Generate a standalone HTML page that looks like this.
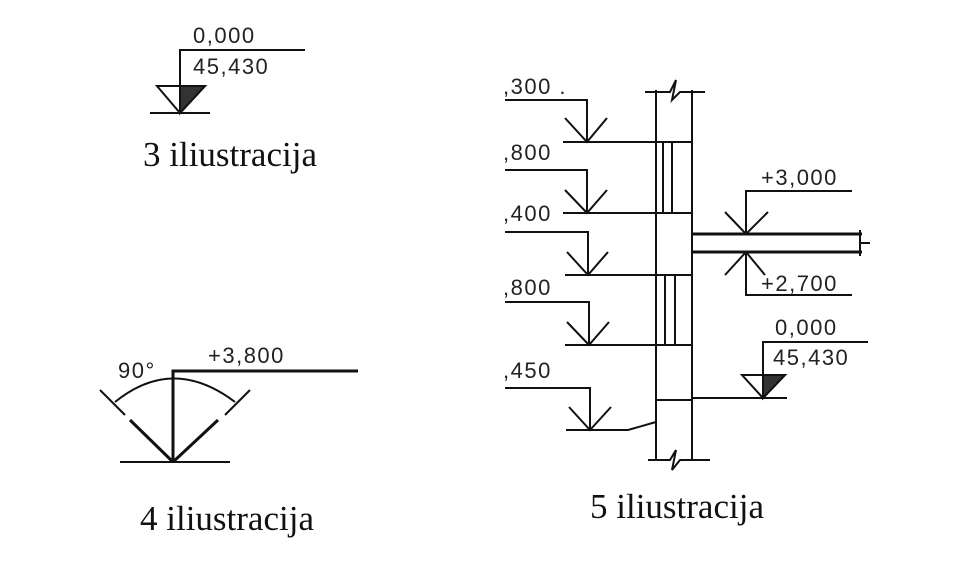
<!DOCTYPE html>
<html><head><meta charset="utf-8"><style>
html,body{margin:0;padding:0;background:#fff;}
svg{display:block}
.t{font-family:"Liberation Sans",sans-serif;font-size:22px;letter-spacing:1.5px;fill:#222;}
.c{font-family:"Liberation Serif",serif;font-size:35px;fill:#111;}
</style></head><body>
<svg width="956" height="576" viewBox="0 0 956 576" xmlns="http://www.w3.org/2000/svg" stroke="#111" fill="none" stroke-width="2">
<!-- Ill 3 -->
<text class="t" x="193" y="43" stroke="none">0,000</text>
<text class="t" x="193" y="74" stroke="none">45,430</text>
<polyline points="305,50 180,50 180,113"/>
<polygon points="157,86 205,86 180,113"/>
<polygon points="180,86 205,86 180,113" fill="#333"/>
<line x1="150" y1="113" x2="210" y2="113"/>
<text class="c" x="143" y="166" stroke="none">3 iliustracija</text>

<!-- Ill 4 -->
<text class="t" x="208" y="363" stroke="none">+3,800</text>
<text class="t" x="118" y="378" stroke="none">90°</text>
<polyline points="173,462 173,371 358,371" stroke-width="3"/>
<path d="M115,402 Q173,355 235,402"/>
<line x1="100" y1="390" x2="125" y2="415"/>
<line x1="130" y1="420" x2="173" y2="462" stroke-width="3"/>
<line x1="250" y1="390" x2="225" y2="415"/>
<line x1="218" y1="420" x2="173" y2="462" stroke-width="3"/>
<line x1="120" y1="462" x2="230" y2="462"/>
<text class="c" x="140" y="530" stroke="none">4 iliustracija</text>

<!-- Ill 5 wall -->
<line x1="656" y1="90" x2="656" y2="460"/>
<line x1="692" y1="90" x2="692" y2="460"/>
<polyline points="645,92 670,92 676,80 672,100 680,92 705,92"/>
<polyline points="648,460 670,460 676,450 672,470 680,460 710,460"/>
<line x1="663" y1="142" x2="663" y2="213"/>
<line x1="672" y1="142" x2="672" y2="213"/>
<line x1="665" y1="275" x2="665" y2="345"/>
<line x1="675" y1="275" x2="675" y2="345"/>
<line x1="656" y1="400" x2="692" y2="400"/>

<!-- levels -->
<text class="t" x="503" y="94" stroke="none">,300 .</text>
<polyline points="505,100 587,100 587,142"/>
<polyline points="565,118 587,142 607,118"/>
<line x1="563" y1="142" x2="692" y2="142"/>

<text class="t" x="503" y="160" stroke="none">,800</text>
<polyline points="505,170 587,170 587,213"/>
<polyline points="565,190 587,213 607,190"/>
<line x1="563" y1="213" x2="692" y2="213"/>

<text class="t" x="503" y="221" stroke="none">,400</text>
<polyline points="505,232 588,232 588,275"/>
<polyline points="567,252 588,275 608,252"/>
<line x1="565" y1="275" x2="692" y2="275"/>

<text class="t" x="503" y="295" stroke="none">,800</text>
<polyline points="505,302 589,302 589,345"/>
<polyline points="567,322 589,345 609,322"/>
<line x1="565" y1="345" x2="692" y2="345"/>

<text class="t" x="503" y="378" stroke="none">,450</text>
<polyline points="505,388 590,388 590,430"/>
<polyline points="569,407 590,430 611,407"/>
<polyline points="566,430 628,430 656,422"/>

<!-- slab -->
<line x1="692" y1="234" x2="862" y2="234" stroke-width="3"/>
<line x1="692" y1="252" x2="862" y2="252" stroke-width="3"/>
<polyline points="860,230 860,256"/>
<line x1="860" y1="243" x2="870" y2="243"/>

<text class="t" x="761" y="185" stroke="none">+3,000</text>
<polyline points="852,191 746,191 746,234"/>
<polyline points="725,212 746,234 768,212"/>
<text class="t" x="761" y="291" stroke="none">+2,700</text>
<polyline points="852,295 746,295 746,252"/>
<polyline points="725,275 746,252 765,275"/>

<text class="t" x="775" y="335" stroke="none">0,000</text>
<text class="t" x="773" y="365" stroke="none">45,430</text>
<polyline points="868,342 763,342 763,398"/>
<polygon points="742,375 785,375 763,398"/>
<polygon points="763,375 785,375 763,398" fill="#333"/>
<line x1="692" y1="398" x2="787" y2="398"/>

<text class="c" x="590" y="518" stroke="none">5 iliustracija</text>
</svg>
</body></html>
